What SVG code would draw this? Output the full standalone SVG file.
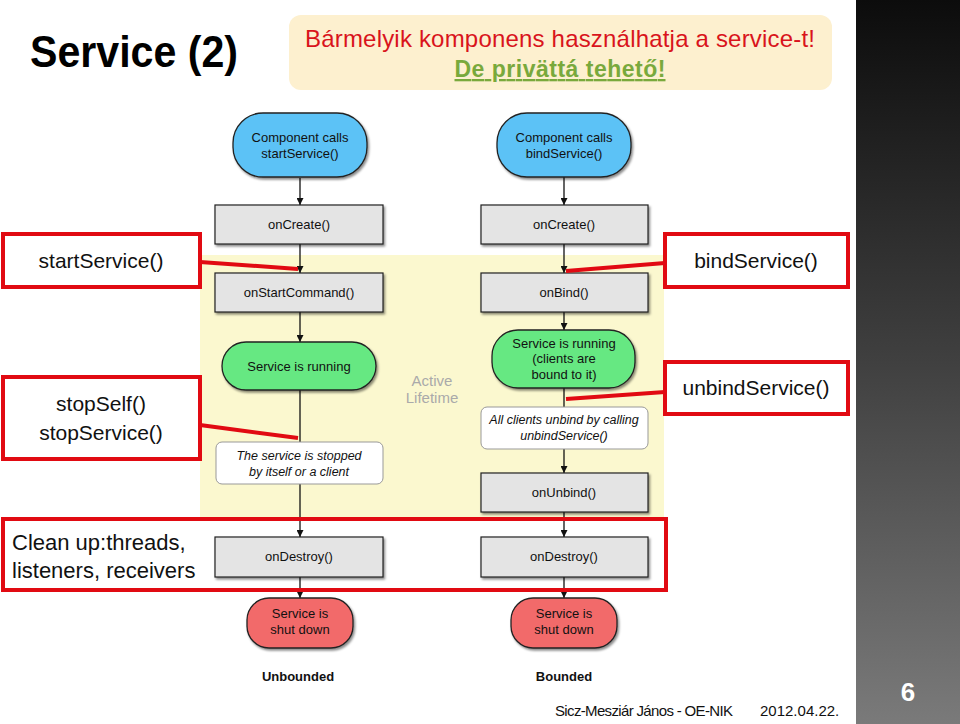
<svg xmlns="http://www.w3.org/2000/svg" width="960" height="724" viewBox="0 0 960 724">
<defs>
<linearGradient id="band" x1="0" y1="0" x2="0" y2="1">
<stop offset="0" stop-color="#0c0c0c"/>
<stop offset="0.5" stop-color="#404040"/>
<stop offset="1" stop-color="#7a7a7a"/>
</linearGradient>
<filter id="sh" x="-10%" y="-10%" width="130%" height="140%">
<feDropShadow dx="1.5" dy="2" stdDeviation="1.2" flood-color="#000" flood-opacity="0.45"/>
</filter>
<marker id="ah" viewBox="0 0 10 10" refX="10" refY="5" markerWidth="7" markerHeight="7" markerUnits="userSpaceOnUse" orient="auto">
<path d="M0,0 L10,5 L0,10 z" fill="#111"/>
</marker>
<style>
.d{font-family:"Liberation Sans",Arial,sans-serif;font-size:13px;fill:#111;text-anchor:middle}
.di{font-family:"Liberation Sans",Arial,sans-serif;font-size:12.5px;fill:#111;text-anchor:middle;font-style:italic}
.gray{fill:#e4e4e4;stroke:#222;stroke-width:1.2}
.blue{fill:#5cc2f6;stroke:#222;stroke-width:1.3}
.green{fill:#66e882;stroke:#222;stroke-width:1.3}
.redn{fill:#f26a6a;stroke:#222;stroke-width:1.3}
.note{fill:#fff;stroke:#999;stroke-width:1}
.rb{fill:#fff;stroke:#e10a12;stroke-width:4}
.rbn{fill:none;stroke:#e10a12;stroke-width:4}
.rl{stroke:#e10a12;stroke-width:4;fill:none}
.ln{stroke:#111;stroke-width:1.3;fill:none}
.la{font-family:"Liberation Sans",Arial,sans-serif;font-size:21px;fill:#111;text-anchor:middle}
.ll{font-family:"Liberation Sans",Arial,sans-serif;font-size:22px;fill:#111}
.lb{font-family:"Liberation Sans",Arial,sans-serif;font-size:13px;font-weight:bold;fill:#111;text-anchor:middle}
</style>
</defs>
<rect x="0" y="0" width="960" height="724" fill="#fff"/>
<rect x="856" y="0" width="104" height="724" fill="url(#band)"/>
<text x="908" y="701" font-family="Liberation Sans,Arial,sans-serif" font-size="26" font-weight="bold" fill="#fff" text-anchor="middle">6</text>

<text x="30" y="67" font-family="Liberation Sans,Arial,sans-serif" font-size="44" font-weight="bold" fill="#000" textLength="208" lengthAdjust="spacingAndGlyphs">Service (2)</text>

<g id="callout">
<rect x="289" y="15" width="543" height="75" rx="12" fill="#fdf0cf"/>
<text x="560" y="47" font-family="Liberation Sans,Arial,sans-serif" font-size="24" fill="#d9141c" text-anchor="middle" textLength="510">Bármelyik komponens használhatja a service-t!</text>
<text x="560" y="77" font-family="Liberation Sans,Arial,sans-serif" font-size="23" font-weight="bold" fill="#79a93c" text-anchor="middle" text-decoration="underline" textLength="211">De privättá tehető!</text>
</g>

<rect id="active-area" x="200" y="255" width="464" height="264" fill="#fbf8cf"/>
<text x="432" y="386" font-family="Liberation Sans,Arial,sans-serif" font-size="15" fill="#aaa" text-anchor="middle">Active</text>
<text x="432" y="403" font-family="Liberation Sans,Arial,sans-serif" font-size="15" fill="#aaa" text-anchor="middle">Lifetime</text>

<g id="connectors">
<line class="ln" x1="300" y1="178" x2="300" y2="205" marker-end="url(#ah)"/>
<line class="ln" x1="300" y1="244" x2="300" y2="273" marker-end="url(#ah)"/>
<line class="ln" x1="300" y1="312" x2="300" y2="342" marker-end="url(#ah)"/>
<line class="ln" x1="300" y1="390" x2="300" y2="442"/>
<line class="ln" x1="300" y1="484" x2="300" y2="537" marker-end="url(#ah)"/>
<line class="ln" x1="300" y1="577" x2="300" y2="598" marker-end="url(#ah)"/>
<line class="ln" x1="564" y1="177" x2="564" y2="205" marker-end="url(#ah)"/>
<line class="ln" x1="564" y1="244" x2="564" y2="273" marker-end="url(#ah)"/>
<line class="ln" x1="564" y1="312" x2="564" y2="330" marker-end="url(#ah)"/>
<line class="ln" x1="564" y1="388" x2="564" y2="407"/>
<line class="ln" x1="564" y1="449" x2="564" y2="473" marker-end="url(#ah)"/>
<line class="ln" x1="564" y1="512" x2="564" y2="537" marker-end="url(#ah)"/>
<line class="ln" x1="564" y1="577" x2="564" y2="598" marker-end="url(#ah)"/>
</g>

<g id="start-call"><rect class="blue" x="233" y="113" width="134" height="64" rx="30" filter="url(#sh)"/><text class="d" x="300" y="142">Component calls</text><text class="d" x="300" y="158">startService()</text></g>
<g id="bind-call"><rect class="blue" x="497" y="113" width="134" height="64" rx="30" filter="url(#sh)"/><text class="d" x="564" y="142">Component calls</text><text class="d" x="564" y="158">bindService()</text></g>

<g id="oncreate-l"><rect class="gray" x="215" y="205" width="168" height="39" filter="url(#sh)"/><text class="d" x="299" y="229">onCreate()</text></g>
<g id="oncreate-r"><rect class="gray" x="481" y="205" width="167" height="39" filter="url(#sh)"/><text class="d" x="564" y="229">onCreate()</text></g>
<g id="onstartcommand"><rect class="gray" x="215" y="273" width="168" height="39" filter="url(#sh)"/><text class="d" x="299" y="297">onStartCommand()</text></g>
<g id="onbind"><rect class="gray" x="481" y="273" width="167" height="39" filter="url(#sh)"/><text class="d" x="564" y="297">onBind()</text></g>

<g id="running-l"><rect class="green" x="222" y="342" width="154" height="48" rx="24" filter="url(#sh)"/><text class="d" x="299" y="371">Service is running</text></g>
<g id="running-r"><rect class="green" x="492" y="330" width="143" height="58" rx="26" filter="url(#sh)"/><text class="d" x="564" y="348">Service is running</text><text class="d" x="564" y="363">(clients are</text><text class="d" x="564" y="379">bound to it)</text></g>

<g id="stopped-note"><rect class="note" x="216" y="442" width="167" height="42" rx="6"/><text class="di" x="299" y="460">The service is stopped</text><text class="di" x="299" y="476">by itself or a client</text></g>
<g id="unbind-note"><rect class="note" x="481" y="407" width="167" height="42" rx="6"/><text class="di" x="564" y="424">All clients unbind by calling</text><text class="di" x="564" y="440">unbindService()</text></g>

<g id="onunbind"><rect class="gray" x="481" y="473" width="167" height="39" filter="url(#sh)"/><text class="d" x="564" y="497">onUnbind()</text></g>
<g id="ondestroy-l"><rect class="gray" x="215" y="537" width="168" height="40" filter="url(#sh)"/><text class="d" x="299" y="561">onDestroy()</text></g>
<g id="ondestroy-r"><rect class="gray" x="481" y="537" width="167" height="40" filter="url(#sh)"/><text class="d" x="564" y="561">onDestroy()</text></g>

<g id="shutdown-l"><rect class="redn" x="247" y="598" width="106" height="50" rx="22" filter="url(#sh)"/><text class="d" x="300" y="618">Service is</text><text class="d" x="300" y="634">shut down</text></g>
<g id="shutdown-r"><rect class="redn" x="511" y="598" width="106" height="50" rx="22" filter="url(#sh)"/><text class="d" x="564" y="618">Service is</text><text class="d" x="564" y="634">shut down</text></g>

<text class="lb" x="298" y="681">Unbounded</text>
<text class="lb" x="564" y="681">Bounded</text>

<g id="red-links">
<line class="rl" x1="200" y1="262" x2="298" y2="269"/>
<line class="rl" x1="200" y1="425" x2="298" y2="438"/>
<line class="rl" x1="665" y1="263" x2="566" y2="271"/>
<line class="rl" x1="665" y1="392" x2="566" y2="399"/>
</g>

<g id="lbl-startservice"><rect class="rb" x="3" y="234" width="197" height="53"/><text class="la" x="101" y="268">startService()</text></g>
<g id="lbl-stop"><rect class="rb" x="3" y="377" width="197" height="82"/><text class="la" x="101" y="411">stopSelf()</text><text class="la" x="101" y="440">stopService()</text></g>
<g id="lbl-bindservice"><rect class="rb" x="665" y="234" width="183" height="53"/><text class="la" x="756" y="268">bindService()</text></g>
<g id="lbl-unbindservice"><rect class="rb" x="665" y="362" width="183" height="52"/><text class="la" x="756" y="395">unbindService()</text></g>
<g id="lbl-cleanup"><rect class="rbn" x="3" y="519" width="663" height="71"/><text class="ll" x="12" y="550">Clean up:threads,</text><text class="ll" x="12" y="578">listeners,  receivers</text></g>

<text x="555" y="716" font-family="Liberation Sans,Arial,sans-serif" font-size="15" fill="#111" textLength="178">Sicz-Mesziár János - OE-NIK</text>
<text x="760" y="716" font-family="Liberation Sans,Arial,sans-serif" font-size="15" fill="#111">2012.04.22.</text>
</svg>
